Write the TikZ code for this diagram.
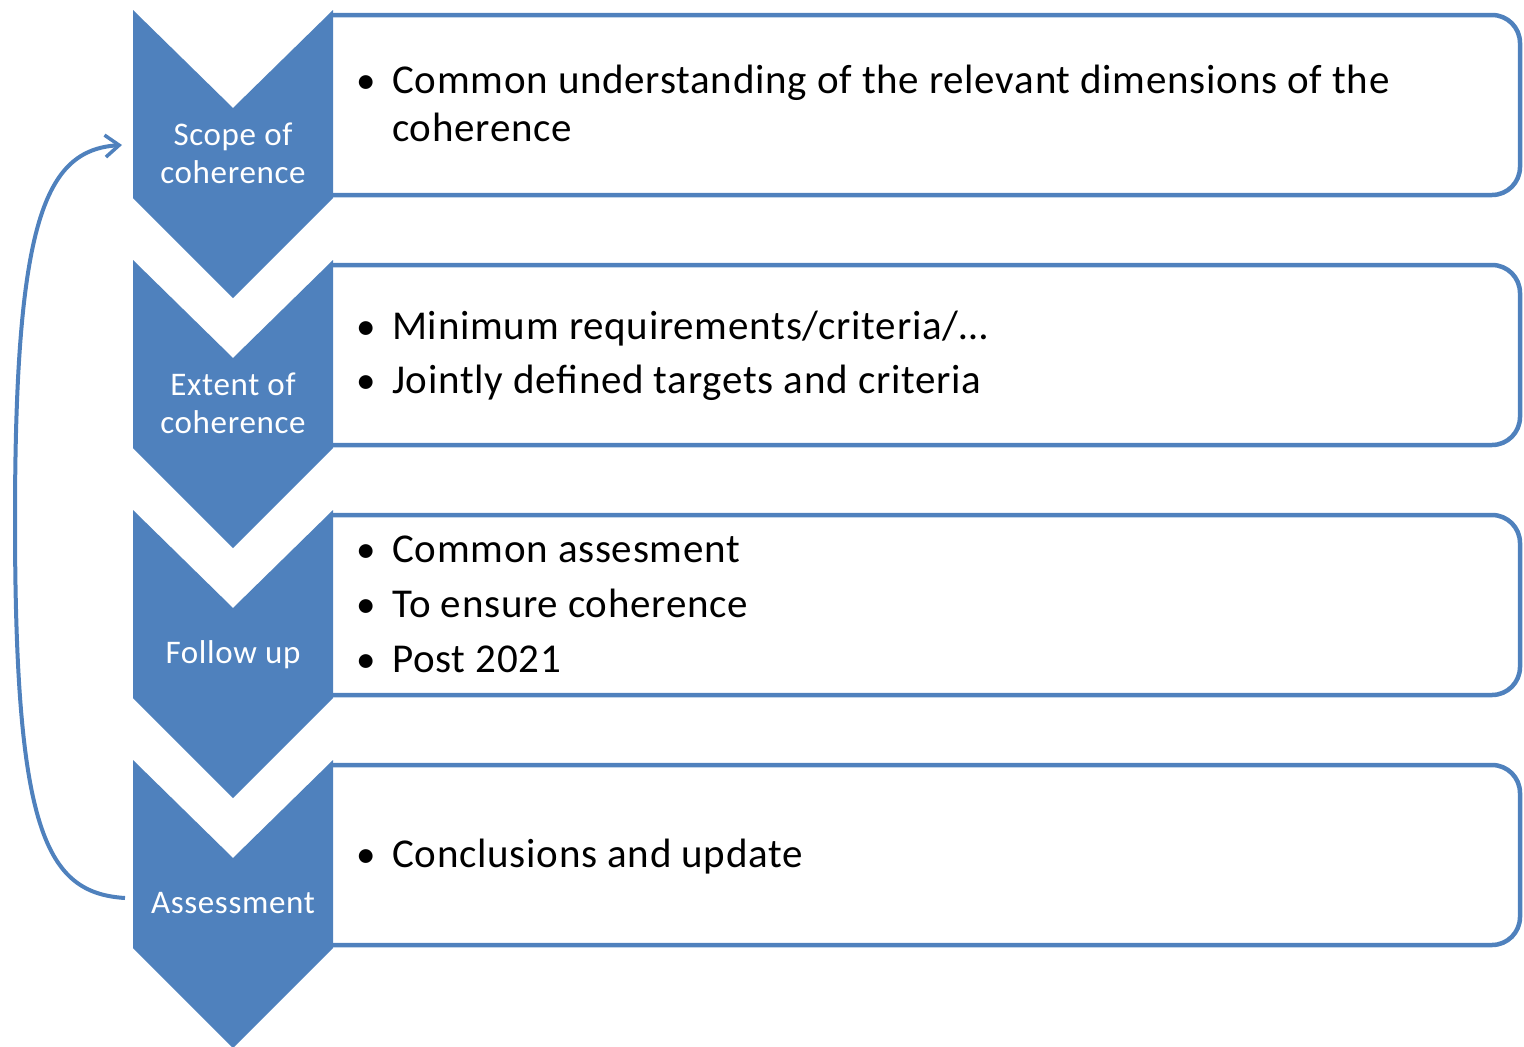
\documentclass[tikz,border=0pt]{standalone}
\usepackage{fontspec}
\setmainfont{Carlito}
\newfontfamily\boxfont[LetterSpace=1.8]{Carlito}
\newfontfamily\labfont[LetterSpace=2.0]{Carlito}
\usetikzlibrary{arrows.meta}
\definecolor{cblue}{HTML}{4F81BD}
\begin{document}
\begin{tikzpicture}[x=1pt,y=-1pt,
  chev/.style={fill=cblue},
  stepbox/.style={draw=cblue, line width=4.5pt},
  lab/.style={text=white, font=\labfont\fontsize{33}{38}\selectfont, anchor=base, inner sep=0pt},
  item/.style={anchor=base west, font=\boxfont\fontsize{41}{48}\selectfont, inner sep=0pt, align=left},
  bul/.style={anchor=base, font=\fontsize{39}{48}\selectfont, inner sep=0pt},
  loop/.style={draw=cblue, line width=4pt, -{Straight Barb[length=14pt,width=22pt,line width=3.5pt]}}]
\useasboundingbox (0,0) rectangle (1524,1047);

% boxes
\foreach \o in {0,250,500,750} {
  \draw[stepbox] (333,15+\o) [rounded corners=28pt] -- (1520,15+\o) -- (1520,195+\o) [sharp corners] -- (333,195+\o);
}
% chevrons
\foreach \o in {0,250,500,750} {
  \fill[chev] (133,10+\o) -- (233,108+\o) -- (333,10+\o) -- (333,198+\o) -- (233,298+\o) -- (133,198+\o) -- cycle;
}

% chevron labels
\node[lab] (s1) at (233,145) {Scope of};
\node[lab] (s2) at (233,183) {coherence};
\node[lab] (e1) at (233,395) {Extent of};
\node[lab] (e2) at (233,433) {coherence};
\node[lab] (f1) at (233,663) {Follow up};
\node[lab] (a1) at (233,913) {Assessment};

% box texts
\node[bul] (b11) at (366,93) {•};
\node[item] (t11) at (392,93) {Common understanding of the relevant dimensions of the};
\node[item] (t12) at (392,141) {coherence};

\node[bul] (b21) at (366,339) {•};
\node[item] (t21) at (392,339) {Minimum requirements/criteria/…};
\node[bul] (b22) at (366,393) {•};
\node[item] (t22) at (392,393) {Jointly defined targets and criteria};

\node[bul] (b31) at (366,562) {•};
\node[item] (t31) at (392,562) {Common assesment};
\node[bul] (b32) at (366,617) {•};
\node[item] (t32) at (392,617) {To ensure coherence};
\node[bul] (b33) at (366,672) {•};
\node[item] (t33) at (392,672) {Post 2021};

\node[bul] (b41) at (366,867) {•};
\node[item] (t41) at (392,867) {Conclusions and update};

% feedback loop
\coordinate (loopstart) at (125,898);
\coordinate (loopend) at (122,145);
\draw[loop] (loopstart) .. controls (45,893) and (15,830) .. (15,520)
  .. controls (15,220) and (45,150) .. (loopend);
\end{tikzpicture}
\end{document}
